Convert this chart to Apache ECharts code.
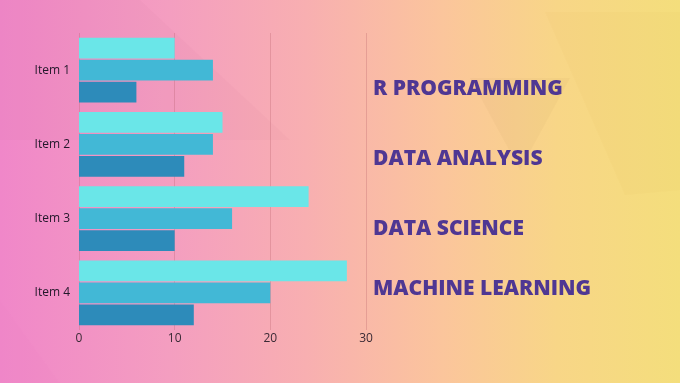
<!DOCTYPE html>
<html>
<head>
<meta charset="utf-8">
<script src="https://cdn.jsdelivr.net/npm/echarts@6/dist/echarts.min.js"></script>
<style>
html,body{margin:0;padding:0;}
#c{width:680px;height:383px;}
</style>
</head>
<body>
<div id="c"></div>
<script>
const categories = ['Item 1', 'Item 2', 'Item 3', 'Item 4'];
const seriesA = [10, 15, 24, 28];
const seriesB = [14, 14, 16, 20];
const seriesC = [6, 11, 10, 12];
const xTicks = [0, 10, 20, 30];
const topics = ['R PROGRAMMING', 'DATA ANALYSIS', 'DATA SCIENCE', 'MACHINE LEARNING'];

const colors = ['#6ae6e8', '#42b8d6', '#2d8bba'];
const topicY = [88, 158, 228, 288];

const chart = echarts.init(document.getElementById('c'), null, {renderer: 'canvas'});

const graphics = [
  {type: 'rect', z: -10, shape: {x: 0, y: 0, width: 680, height: 383},
   style: {fill: new echarts.graphic.LinearGradient(0, 0, 1, 0, [
     {offset: 0, color: '#f087c9'},
     {offset: 0.25, color: '#f49ec0'},
     {offset: 0.45, color: '#f8afb1'},
     {offset: 0.65, color: '#fbc59c'},
     {offset: 0.82, color: '#f8d687'},
     {offset: 1, color: '#f4de7c'}
   ])}},
  {type: 'polygon', z: -9, shape: {points: [[0, 0], [140, 0], [290, 140], [0, 140]]},
   style: {fill: 'rgba(200,90,140,0.05)'}},
  {type: 'polygon', z: -9, shape: {points: [[470, 78], [570, 78], [520, 170]]},
   style: {fill: 'rgba(190,140,90,0.07)'}},
  {type: 'polygon', z: -9, shape: {points: [[545, 12], [680, 12], [680, 190], [625, 195]]},
   style: {fill: 'rgba(200,150,60,0.04)'}},
  {type: 'polygon', z: -9, shape: {points: [[0, 300], [60, 383], [0, 383]]},
   style: {fill: 'rgba(230,110,190,0.05)'}}
];
topics.forEach((t, i) => {
  graphics.push({
    type: 'text', left: 373, top: topicY[i] - 9, z: 10,
    style: {text: t, fill: '#4f3793', font: '800 21px "Open Sans"'}
  });
});

chart.setOption({
  animation: false,
  graphic: graphics,
  grid: {left: 79, right: 314, top: 33, bottom: 53},
  xAxis: {
    type: 'value', min: 0, max: 30, interval: 10,
    axisLine: {show: false}, axisTick: {show: false},
    axisLabel: {color: '#3a2a35', fontSize: 12, fontFamily: 'Open Sans', margin: 3},
    splitLine: {show: true, lineStyle: {color: 'rgba(170,80,90,0.25)', width: 1}}
  },
  yAxis: {
    type: 'category', data: categories, inverse: true,
    axisLine: {show: false}, axisTick: {show: false},
    axisLabel: {color: '#22182a', fontSize: 12, fontFamily: 'Open Sans', margin: 9}
  },
  series: [
    {type: 'bar', data: seriesA, itemStyle: {color: colors[0]}, barGap: '6%', barCategoryGap: '13%'},
    {type: 'bar', data: seriesB, itemStyle: {color: colors[1]}, barGap: '6%', barCategoryGap: '13%'},
    {type: 'bar', data: seriesC, itemStyle: {color: colors[2]}, barGap: '6%', barCategoryGap: '13%'}
  ]
});
</script>
</body>
</html>
